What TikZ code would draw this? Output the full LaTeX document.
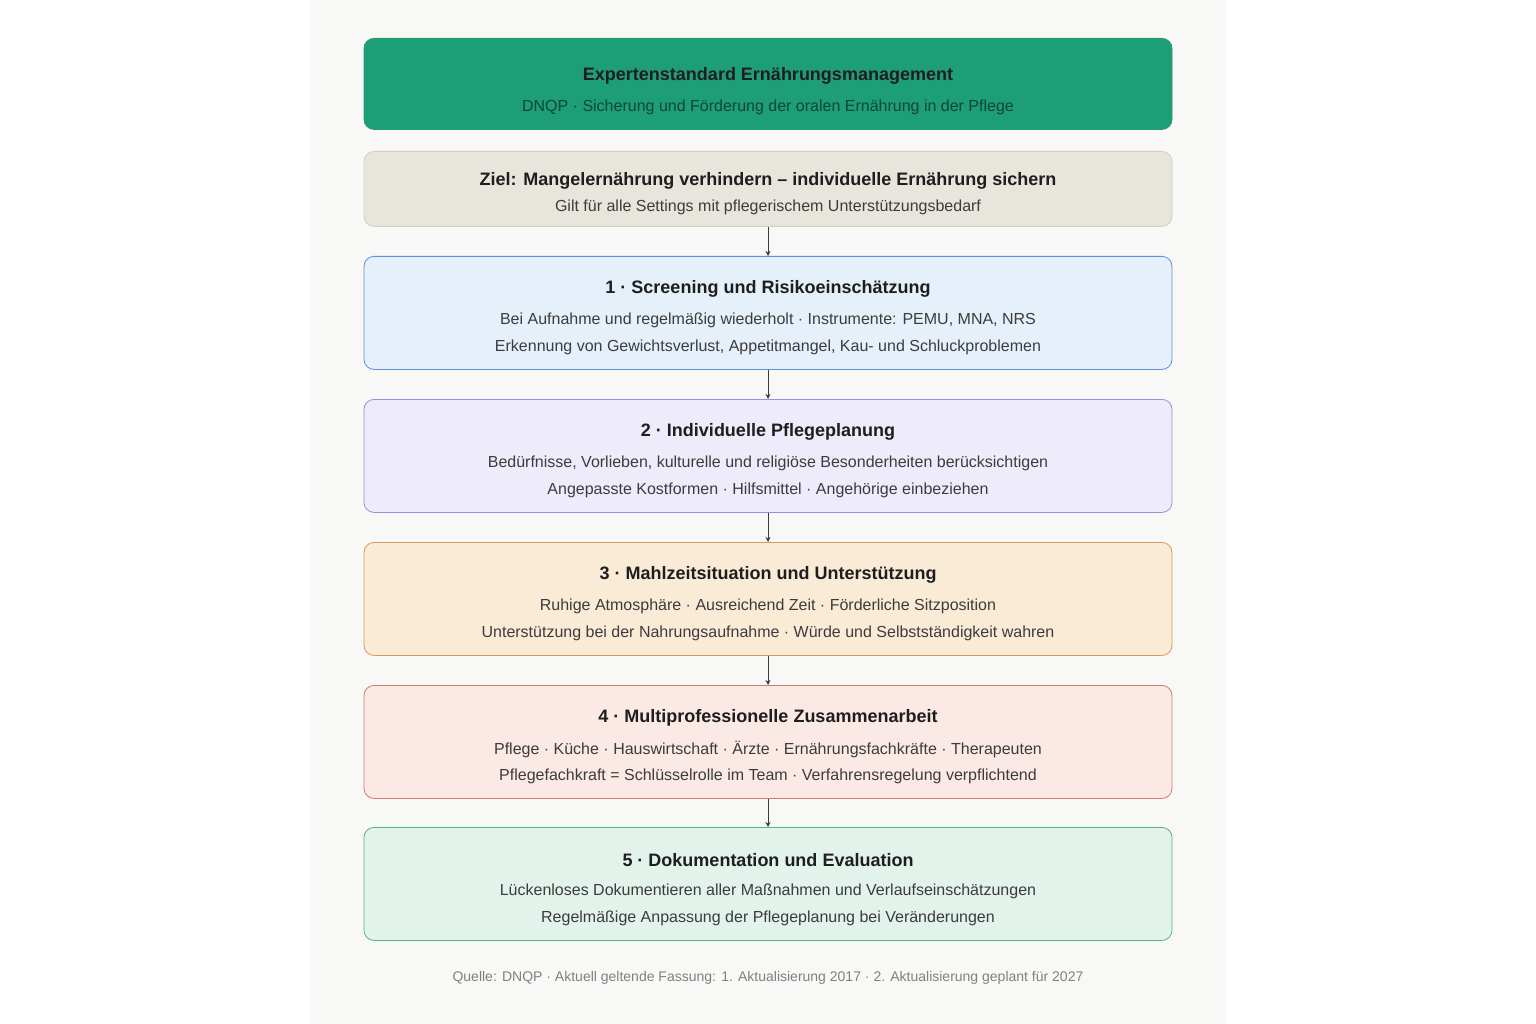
\documentclass[tikz,border=0pt]{standalone}
\usepackage{fontspec}
\setmainfont{Liberation Sans}
\usetikzlibrary{arrows.meta}
\definecolor{panel}{HTML}{F8F8F6}
\definecolor{hdr}{HTML}{1E9E76}
\definecolor{zielf}{HTML}{E8E5DD}\definecolor{zield}{HTML}{D3CFC4}
\definecolor{af}{HTML}{E6F0FB}\definecolor{ad}{HTML}{5C8FD8}
\definecolor{bf}{HTML}{EEEBFB}\definecolor{bd}{HTML}{9A8FE0}
\definecolor{cf}{HTML}{FAEBD7}\definecolor{cd}{HTML}{D49B5C}
\definecolor{df}{HTML}{FAE9E5}\definecolor{dd}{HTML}{D07C6C}
\definecolor{ef}{HTML}{E2F3EB}\definecolor{ed}{HTML}{52B38C}
\definecolor{txt}{HTML}{1E1E1E}\definecolor{sub}{HTML}{3C3C3C}
\begin{document}
\begin{tikzpicture}[x=1pt,y=-1pt,
  box/.style={rounded corners=10pt,line width=0.8pt,minimum width=808pt,inner sep=0pt},
  ttl/.style={font=\fontsize{18}{20}\selectfont\bfseries,text=txt},
  ln/.style={font=\fontsize{16}{18}\selectfont,text=sub},
  arr/.style={-{Stealth[length=5pt,width=5pt]},draw=sub,line width=0.7pt}]
\useasboundingbox (0,0) rectangle (1536,1024);
\fill[white] (0,0) rectangle (1536,1024);
\fill[panel] (310,0) rectangle (1226,1024);
% header
\node[box,fill=hdr,draw=hdr,minimum height=91pt,anchor=north] (h) at (768,38) {};
\node[ttl] (ht) at (768,76) {Expertenstandard Ernährungsmanagement};
\node[ln,text=hdr!45!black] (hs) at (768,107) {DNQP · Sicherung und Förderung der oralen Ernährung in der Pflege};
% ziel
\node[box,fill=zielf,draw=zield,minimum height=75pt,anchor=north] (z) at (768,151) {};
\node[ttl] at (768,181) {Ziel: Mangelernährung verhindern – individuelle Ernährung sichern};
\node[ln] at (768,207) {Gilt für alle Settings mit pflegerischem Unterstützungsbedarf};
% steps
\foreach \n/\y/\f/\d/\t/\a/\b in {
 s1/256/af/ad/{1 · Screening und Risikoeinschätzung}/{Bei Aufnahme und regelmäßig wiederholt · Instrumente: PEMU, MNA, NRS}/{Erkennung von Gewichtsverlust, Appetitmangel, Kau- und Schluckproblemen},
 s2/399/bf/bd/{2 · Individuelle Pflegeplanung}/{Bedürfnisse, Vorlieben, kulturelle und religiöse Besonderheiten berücksichtigen}/{Angepasste Kostformen · Hilfsmittel · Angehörige einbeziehen},
 s3/542/cf/cd/{3 · Mahlzeitsituation und Unterstützung}/{Ruhige Atmosphäre · Ausreichend Zeit · Förderliche Sitzposition}/{Unterstützung bei der Nahrungsaufnahme · Würde und Selbstständigkeit wahren},
 s4/685/df/dd/{4 · Multiprofessionelle Zusammenarbeit}/{Pflege · Küche · Hauswirtschaft · Ärzte · Ernährungsfachkräfte · Therapeuten}/{Pflegefachkraft = Schlüsselrolle im Team · Verfahrensregelung verpflichtend},
 s5/827/ef/ed/{5 · Dokumentation und Evaluation}/{Lückenloses Dokumentieren aller Maßnahmen und Verlaufseinschätzungen}/{Regelmäßige Anpassung der Pflegeplanung bei Veränderungen}}{
  \node[box,fill=\f,draw=\d,minimum height=113pt,anchor=north] (\n) at (768,\y) {};
  \node[ttl] at (768,\y+33) {\t};
  \node[ln] at (768,\y+64) {\a};
  \node[ln] at (768,\y+91) {\b};
}
\draw[arr] (z.south) -- (s1.north);
\draw[arr] (s1.south) -- (s2.north);
\draw[arr] (s2.south) -- (s3.north);
\draw[arr] (s3.south) -- (s4.north);
\draw[arr] (s4.south) -- (s5.north);
\node[font=\fontsize{14}{16}\selectfont,text=black!50] (f) at (768,978) {Quelle: DNQP · Aktuell geltende Fassung: 1. Aktualisierung 2017 · 2. Aktualisierung geplant für 2027};
\end{tikzpicture}
\end{document}
